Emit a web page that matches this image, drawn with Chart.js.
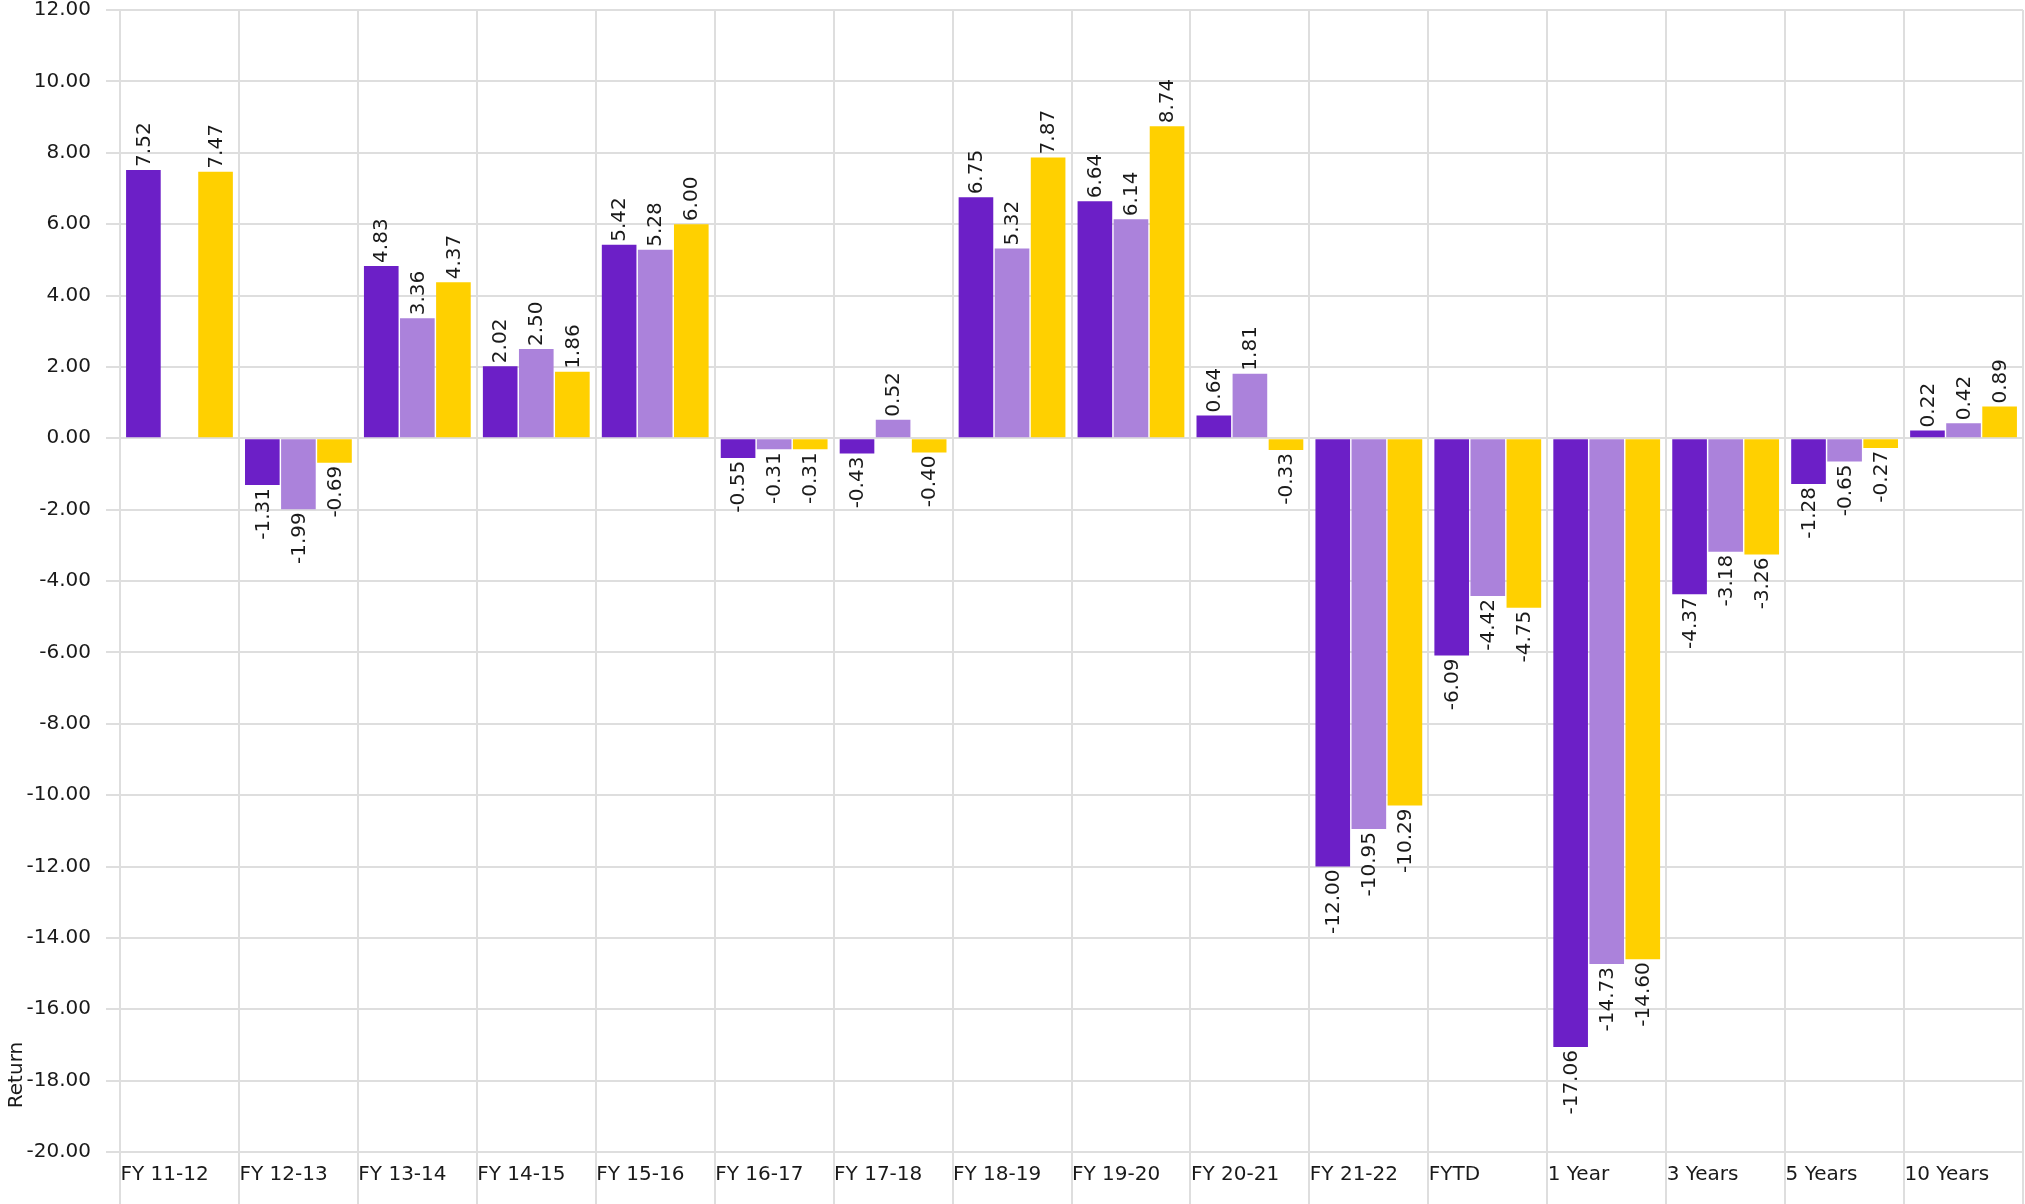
<!DOCTYPE html>
<html>
<head>
<meta charset="utf-8">
<title>Returns by period</title>
<script src="https://cdn.jsdelivr.net/npm/chart.js@4.4.1/dist/chart.umd.min.js"></script>
<style>
  html, body { margin: 0; padding: 0; background: #fff; }
</style>
</head>
<body>
<canvas id="returnsChart" width="2025" height="1204"></canvas>
<script>
const periods = ['FY 11-12', 'FY 12-13', 'FY 13-14', 'FY 14-15', 'FY 15-16', 'FY 16-17',
  'FY 17-18', 'FY 18-19', 'FY 19-20', 'FY 20-21', 'FY 21-22', 'FYTD',
  '1 Year', '3 Years', '5 Years', '10 Years'];

const fundReturns = [7.52, -1.31, 4.83, 2.02, 5.42, -0.55, -0.43, 6.75, 6.64, 0.64,
  -12.00, -6.09, -17.06, -4.37, -1.28, 0.22];
const peerReturns = [null, -1.99, 3.36, 2.50, 5.28, -0.31, 0.52, 5.32, 6.14, 1.81,
  -10.95, -4.42, -14.73, -3.18, -0.65, 0.42];
const benchmarkReturns = [7.47, -0.69, 4.37, 1.86, 6.00, -0.31, -0.40, 7.87, 8.74, -0.33,
  -10.29, -4.75, -14.60, -3.26, -0.27, 0.89];

const yMin = -20;
const yMax = 12;
const yStep = 2;

const FONT = '"DejaVu Sans", Verdana, sans-serif';
const TEXT = '#1a1a1a';
const GRID = '#dedede';

// value written above / below each bar, rotated to read upwards
const barValueLabels = {
  id: 'barValueLabels',
  afterDatasetsDraw(chart) {
    const ctx = chart.ctx;
    ctx.save();
    ctx.font = '20px ' + FONT;
    ctx.fillStyle = TEXT;
    ctx.textBaseline = 'middle';
    chart.data.datasets.forEach((ds, i) => {
      chart.getDatasetMeta(i).data.forEach((bar, j) => {
        const v = ds.data[j];
        if (v === null || v === undefined) return;
        ctx.save();
        ctx.translate(bar.x + 1, v >= 0 ? bar.y - 3 : bar.y + 3);
        ctx.rotate(-Math.PI / 2);
        ctx.textAlign = v >= 0 ? 'left' : 'right';
        ctx.fillText(v.toFixed(2), 0, 0);
        ctx.restore();
      });
    });
    ctx.restore();
  }
};

// y axis caption sits low, next to the bottom ticks
const returnCaption = {
  id: 'returnCaption',
  afterDraw(chart) {
    const {ctx, chartArea} = chart;
    ctx.save();
    ctx.translate(17, chartArea.bottom - 77);
    ctx.rotate(-Math.PI / 2);
    ctx.font = '20px ' + FONT;
    ctx.fillStyle = TEXT;
    ctx.textAlign = 'center';
    ctx.textBaseline = 'middle';
    ctx.fillText('Return', 0, 0);
    ctx.restore();
  }
};

const barData = {
  labels: periods,
  datasets: [
    { label: 'Fund', data: fundReturns, backgroundColor: '#6c1fc7' },
    { label: 'Peer group', data: peerReturns, backgroundColor: '#ab82db' },
    { label: 'Benchmark', data: benchmarkReturns, backgroundColor: '#ffd000' }
  ]
};

const barConfig = {
  type: 'bar',
  data: barData,
  plugins: [barValueLabels, returnCaption],
  options: {
    responsive: false,
    animation: false,
    layout: { padding: { top: 10, right: 2, bottom: 0, left: 0 } },
    datasets: {
      bar: { categoryPercentage: 0.91, barPercentage: 0.96 }
    },
    plugins: {
      legend: { display: false },
      tooltip: { enabled: false }
    },
    scales: {
      x: {
        grid: { color: GRID, lineWidth: 2, offset: true, tickLength: 60 },
        border: { color: GRID, width: 2 },
        ticks: {
          align: 'start',
          labelOffset: -59,
          padding: -49,
          maxRotation: 0,
          autoSkip: false,
          color: TEXT,
          font: { family: FONT, size: 20 }
        },
        afterFit(scale) {
          scale.height = 52;
          scale.paddingLeft = 0;
          scale.paddingRight = 0;
        }
      },
      y: {
        min: yMin,
        max: yMax,
        grid: { color: GRID, lineWidth: 2, tickLength: 14 },
        border: { color: GRID, width: 2 },
        ticks: {
          stepSize: yStep,
          padding: 15,
          color: TEXT,
          font: { family: FONT, size: 20 },
          callback: v => v.toFixed(2)
        },
        afterFit(scale) {
          scale.width = 120;
          scale.paddingTop = 0;
          scale.paddingBottom = 0;
        }
      }
    }
  }
};

const returnsChart = new Chart(document.getElementById('returnsChart'), barConfig);
</script>
</body>
</html>
